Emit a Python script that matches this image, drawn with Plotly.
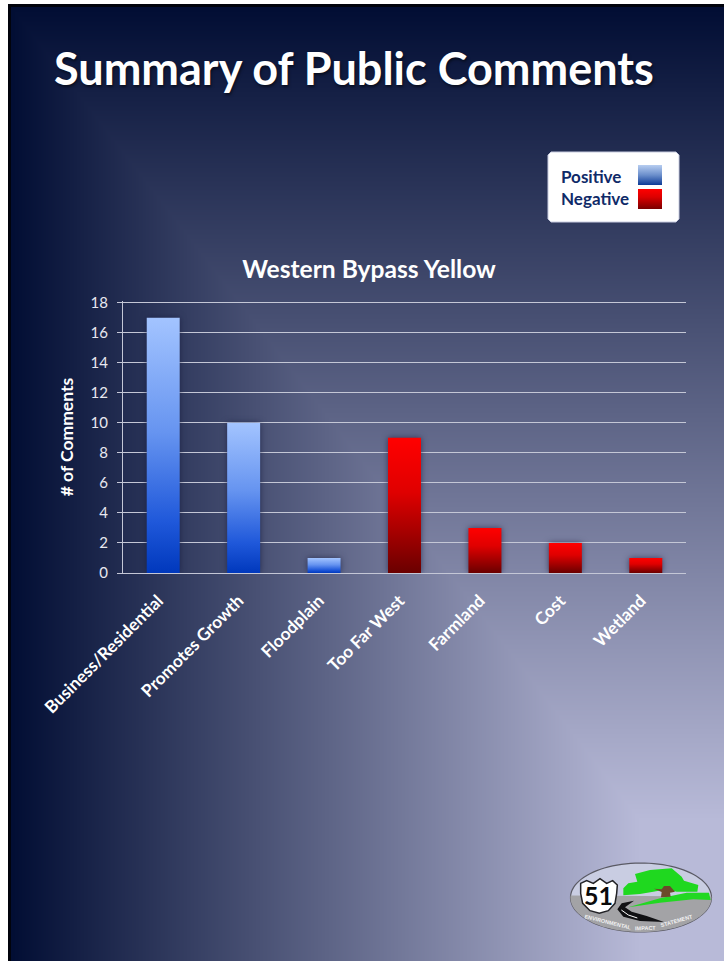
import base64, struct, zlib
import numpy as np
import plotly.graph_objects as go

W, H = 724, 961
FONT = "Lato, Carlito, sans-serif"

positive_categories = ["Business/Residential", "Promotes Growth", "Floodplain"]
positive_values = [17, 10, 1]
negative_categories = ["Too Far West", "Farmland", "Cost", "Wetland"]
negative_values = [9, 3, 2, 1]
all_categories = positive_categories + negative_categories
y_ticks = [0, 2, 4, 6, 8, 10, 12, 14, 16, 18]


def png_uri(rgb):
    h, w, _ = rgb.shape
    raw = b"".join(b"\x00" + rgb[r].tobytes() for r in range(h))
    def chunk(t, d):
        return struct.pack(">I", len(d)) + t + d + struct.pack(">I", zlib.crc32(t + d) & 0xffffffff)
    data = (b"\x89PNG\r\n\x1a\n" + chunk(b"IHDR", struct.pack(">IIBBBBB", w, h, 8, 2, 0, 0, 0))
            + chunk(b"IDAT", zlib.compress(raw, 9)) + chunk(b"IEND", b""))
    return "data:image/png;base64," + base64.b64encode(data).decode()


def slide_background():
    yy, xx = np.mgrid[0:H, 0:W].astype(float)
    t = np.clip(np.minimum((xx - 11) / ((W - 11) * 0.88), (yy - 7) / ((H - 7) * 0.85)), 0, 1)[..., None]
    c0 = np.array([2, 14, 52.0])
    c1 = np.array([184, 186, 216.0])
    img = c0 + (c1 - c0) * t
    img[(xx >= 8) & ((xx < 11) | (yy < 7))] = (1, 3, 12)
    img[(xx < 8) | (yy < 4)] = 255
    return img.astype(np.uint8)


def px(x, y):
    return x / W, 1 - y / H


def path(points, close=True):
    pts = [px(*p) for p in points]
    s = "M" + " L".join(f"{a:.5f},{b:.5f}" for a, b in pts)
    return s + (" Z" if close else "")


def zoomed(points):
    return [(560 + a / 3, 850 + b / 3) for a, b in points]


def poly(points, fill, line=None, width=0, close=True):
    return dict(type="path", xref="paper", yref="paper", path=path(points, close),
                fillcolor=fill if close else "rgba(0,0,0,0)",
                line=dict(color=line or "rgba(0,0,0,0)", width=width))


def rect(x0, y0, x1, y1, fill, line=None, width=0):
    a, b = px(x0, y0)
    c, d = px(x1, y1)
    return dict(type="rect", xref="paper", yref="paper", x0=a, y0=b, x1=c, y1=d, fillcolor=fill,
                line=dict(color=line or "rgba(0,0,0,0)", width=width))


# logo ellipse
ecx, ecy, erx, ery = 641, 897.5, 70.5, 34.5


def ellipse_arc(a0, a1, n=48):
    return [(ecx + erx * np.cos(a), ecy + ery * np.sin(a)) for a in np.linspace(a0, a1, n)]


shapes = []
# legend box
shapes.append(poly([(551, 152), (676, 152), (679, 155), (679, 219), (676, 222), (551, 222), (548, 219), (548, 155)],
                   "#ffffff", "#c8cce0", 1))
shapes.append(rect(638, 165, 662, 185, "rgb(1,2,3)"))
shapes.append(rect(638, 189, 662, 209, "rgb(3,2,1)"))
# logo
shapes.append(poly(ellipse_arc(0, 2 * np.pi, 96), "#c9cde2", "#5a5a64", 1.2))
shapes.append(poly(ellipse_arc(-0.03, np.pi + 0.06, 60), "#a3a3a6"))
shapes.append(poly(zoomed([(205, 172), (300, 145), (380, 128), (447, 128), (452, 150), (400, 148), (300, 158)]), "#22d822"))
shapes.append(poly(zoomed([(190, 115), (205, 100), (232, 95), (225, 72), (270, 60), (335, 55), (365, 80), (372, 92),
                           (415, 105), (412, 125), (350, 125), (320, 118), (280, 125), (240, 132), (190, 136)]), "#1fd81f"))
shapes.append(poly(zoomed([(282, 116), (305, 118), (312, 108), (330, 108), (345, 125), (330, 128), (332, 140), (303, 142), (305, 126)]), "#6b4a2a"))
shapes.append(poly(zoomed([(222, 152), (185, 160), (172, 178), (190, 200), (240, 213), (312, 216), (260, 198), (215, 185), (195, 172)]), "#111114"))
shapes.append(poly(zoomed([(184, 180), (205, 195), (232, 204)]), "#000", "#ffffff", 1, close=False))
shapes.append(poly(zoomed([(62, 100), (80, 92), (100, 100), (120, 86), (140, 100), (158, 92), (172, 105), (170, 130),
                           (165, 160), (145, 182), (118, 190), (90, 182), (68, 160), (62, 130)]), "#ffffff", "#222226", 1.5))

LOGO_TXT = dict(family="Liberation Sans", size=5.5, color="#f2f2f2")
annotations = [
    dict(text="<b>Summary of Public Comments</b>", x=354 / W, y=1 - 68 / H, xref="paper", yref="paper",
         xanchor="center", yanchor="middle", showarrow=False,
         font=dict(family=FONT, size=45, color="#ffffff", shadow="1px 2px 3px rgba(0,0,0,0.55)")),
    dict(text="<b>Positive</b>", x=559 / W, y=1 - 176 / H, xref="paper", yref="paper",
         xanchor="left", yanchor="middle", showarrow=False, font=dict(family=FONT, size=17, color="#0f2a68")),
    dict(text="<b>Negative</b>", x=559 / W, y=1 - 199 / H, xref="paper", yref="paper",
         xanchor="left", yanchor="middle", showarrow=False, font=dict(family=FONT, size=17, color="#0f2a68")),
    dict(text="<b>51</b>", x=598.5 / W, y=1 - 895 / H, xref="paper", yref="paper", xanchor="center", yanchor="middle",
         showarrow=False, font=dict(family=FONT, size=25, color="#0a0a0a")),
    dict(text="<b>ENVIRONMENTAL</b>", x=608 / W, y=1 - 922 / H, xref="paper", yref="paper", textangle=14, showarrow=False,
         xanchor="center", yanchor="middle", font=LOGO_TXT),
    dict(text="<b>IMPACT</b>", x=645 / W, y=1 - 928 / H, xref="paper", yref="paper", textangle=-1, showarrow=False,
         xanchor="center", yanchor="middle", font=LOGO_TXT),
    dict(text="<b>STATEMENT</b>", x=676 / W, y=1 - 921 / H, xref="paper", yref="paper", textangle=-16, showarrow=False,
         xanchor="center", yanchor="middle", font=LOGO_TXT),
]

fig = go.Figure()
fig.add_bar(name="Positive", x=positive_categories, y=positive_values, width=0.41, marker=dict(color="#3a6fe0", line_width=0))
fig.add_bar(name="Negative", x=negative_categories, y=negative_values, width=0.41, marker=dict(color="#c00000", line_width=0))

GRID = "#c4c7d6"
fig.update_layout(
    template="none",
    width=W, height=H, autosize=False, showlegend=False, barmode="overlay",
    margin=dict(l=0, r=0, t=0, b=0, pad=0, autoexpand=False), paper_bgcolor="rgba(0,0,0,0)", plot_bgcolor="rgba(0,0,0,0)",
    font=dict(family=FONT, color="#ffffff"),
    title=dict(text="<b>Western Bypass Yellow</b>", x=369 / W, xanchor="center", xref="paper",
               y=1 - 269 / H, yanchor="middle", yref="paper", automargin=False,
               font=dict(family=FONT, size=24.6, color="#ffffff")),
    xaxis=dict(domain=[123 / W, 686 / W], categoryorder="array", categoryarray=all_categories, type="category",
               tickangle=-45, ticks="", ticklen=0, showgrid=False, showline=True, linecolor=GRID, linewidth=1,
               automargin=False, ticklabelshift=-5,
               tickfont=dict(family=FONT, size=17.2, color="#ffffff", weight="bold"), ticklabelstandoff=10),
    yaxis=dict(domain=[1 - 573 / H, 1 - 301.2 / H], range=[0, 18.1], tickvals=y_ticks, ticks="outside", ticklen=5,
               tickcolor=GRID, showgrid=True, gridcolor=GRID, gridwidth=1.2, showline=True, linecolor=GRID, zeroline=False,
               automargin=False, ticklabelstandoff=6,
               tickfont=dict(family=FONT, size=15, color="#e8e8f0"),
               title=dict(text="<b># of Comments</b>", font=dict(family=FONT, size=17.5, color="#ffffff"), standoff=12)),
    shapes=shapes, annotations=annotations,
    images=[dict(source=png_uri(slide_background()), xref="paper", yref="paper", x=0, y=1, sizex=1, sizey=1,
                 xanchor="left", yanchor="top", sizing="stretch", layer="below")],
)

post = """
document.documentElement.style.margin='0';document.body.style.margin='0';document.body.style.background='#fff';
var gd=document.getElementById('{plot_id}');
var svg=gd.querySelector('svg.main-svg');
var NS='http://www.w3.org/2000/svg';
var defs=document.createElementNS(NS,'defs');
function grad(id,stops){
  var g=document.createElementNS(NS,'linearGradient');
  g.setAttribute('id',id);g.setAttribute('x1','0');g.setAttribute('y1','0');g.setAttribute('x2','0');g.setAttribute('y2','1');
  stops.forEach(function(s){var e=document.createElementNS(NS,'stop');e.setAttribute('offset',s[0]);e.setAttribute('stop-color',s[1]);g.appendChild(e);});
  defs.appendChild(g);
}
grad('gBlue',[[0,'#a3c4ff'],[0.45,'#6694f0'],[0.8,'#1f58da'],[1,'#0038bc']]);
grad('gRed',[[0,'#ff0000'],[0.4,'#e00000'],[1,'#6a0000']]);
grad('gKeyBlue',[[0,'#b7cdf0'],[0.5,'#6c8fcc'],[1,'#0c3a96']]);
grad('gKeyRed',[[0,'#ff0000'],[0.4,'#dd0000'],[1,'#7a0000']]);
svg.insertBefore(defs,svg.firstChild);
var tr=gd.querySelectorAll('.barlayer .trace');
['gBlue','gRed'].forEach(function(id,i){
  tr[i].querySelectorAll('path').forEach(function(p){
    p.style.fill='url(#'+id+')';
    p.style.filter='drop-shadow(0 0 3px rgba(20,25,60,0.65))';
  });
});
gd.querySelectorAll('.shapelayer path').forEach(function(p){
  var f=p.style.fill.replace(/ /g,'');
  if(f==='rgb(1,2,3)')p.style.fill='url(#gKeyBlue)';
  if(f==='rgb(3,2,1)')p.style.fill='url(#gKeyRed)';
});
"""
fig.write_html("out.html", post_script=post, config=dict(displayModeBar=False, responsive=False))
